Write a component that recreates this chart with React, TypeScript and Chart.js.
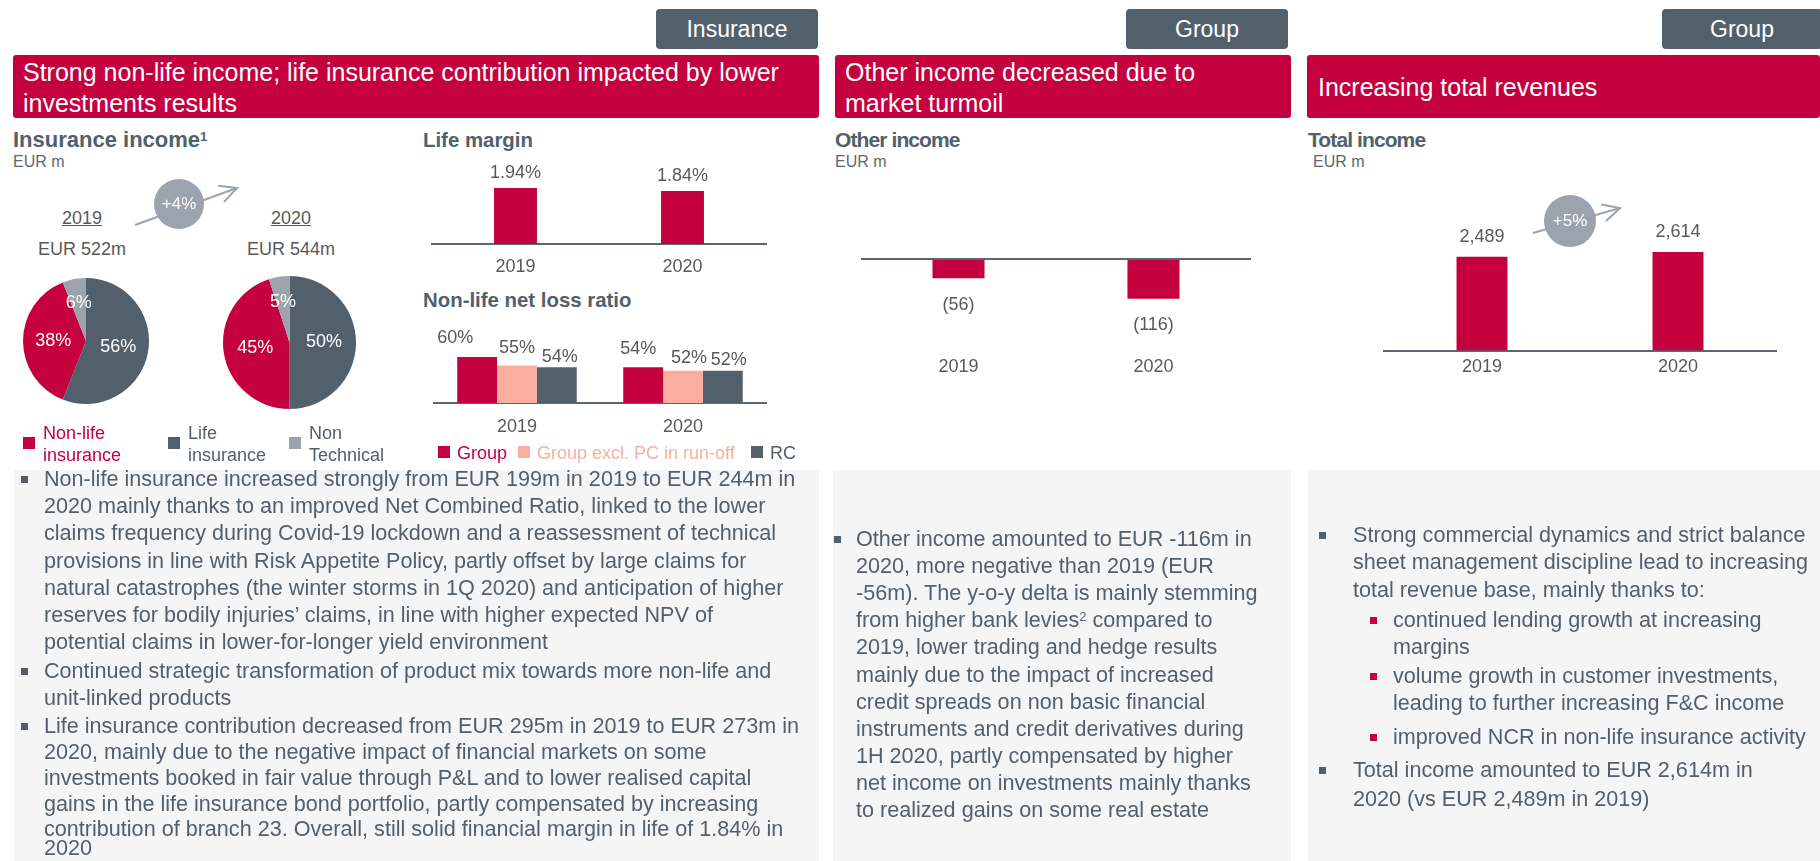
import React, { useEffect, useRef } from 'react';
import { Chart, registerables } from 'chart.js';

Chart.register(...registerables);

// ---------- data ----------
const years = ['2019', '2020'];
const pieLabels = ['Life insurance', 'Non-life insurance', 'Non Technical'];
const pie2019 = [56, 38, 6];
const pie2020 = [50, 45, 5];
const lifeMargin = [1.94, 1.84];
const nlrGroup = [60, 54];
const nlrGroupExPC = [55, 52];
const nlrRC = [54, 52];
const otherIncome = [-56, -116];
const totalIncome = [2489, 2614];

// ---------- style ----------
const FONT = '"Liberation Sans", Arial, Helvetica, sans-serif';
const RED = '#c4003f';
const SLATE = '#52606c';
const LIGHT = '#9ba3ad';
const SALMON = '#f9ae9e';
const TXT = '#535f6a';
const NUM = '#595959';
const AXIS = '#5c6670';
const BOX = '#f5f5f5';
const TICK_SIZE = 18;
const TICK_LH = TICK_SIZE * 1.2;

// bottom padding so that the chart area ends at areaBottom (page px)
function padBottom(canvasTop: number, canvasH: number, areaBottom: number, tickPad: number) {
  return canvasH - (areaBottom - canvasTop) - (TICK_LH + 2 * tickPad);
}

type LabelOpts = {
  color: string;
  size: number;
  offset: number;
  pie?: boolean;
  nudge?: (di: number, i: number) => [number, number];
};

function labelPlugin(id: string, fmt: (v: number) => string, opts: LabelOpts) {
  return {
    id,
    afterDatasetsDraw(chart: any) {
      const ctx = chart.ctx;
      ctx.save();
      ctx.font = `${opts.size}px ${FONT}`;
      ctx.fillStyle = opts.color;
      ctx.textAlign = 'center';
      ctx.textBaseline = 'middle';
      chart.data.datasets.forEach((ds: any, di: number) => {
        const meta = chart.getDatasetMeta(di);
        meta.data.forEach((el: any, i: number) => {
          const v = ds.data[i] as number;
          let x: number, y: number;
          if (opts.pie) {
            const p = el.getProps(['x', 'y', 'startAngle', 'endAngle', 'outerRadius']);
            const mid = (p.startAngle + p.endAngle) / 2;
            const r = p.outerRadius * (v < 10 ? 0.62 : 0.52);
            x = p.x + Math.cos(mid) * r;
            y = p.y + Math.sin(mid) * r;
          } else {
            x = el.x;
            y = v >= 0 ? el.y - opts.offset : el.y + opts.offset;
          }
          if (opts.nudge) {
            const [dx, dy] = opts.nudge(di, i);
            x += dx;
            y += dy;
          }
          ctx.fillText(fmt(v), x, y);
        });
      });
      ctx.restore();
    },
  };
}

function ChartBox({ left, top, width, height, make }: { left: number; top: number; width: number; height: number; make: () => any }) {
  const ref = useRef<HTMLCanvasElement>(null);
  useEffect(() => {
    const chart = new Chart(ref.current as HTMLCanvasElement, make());
    return () => chart.destroy();
  }, []);
  return (
    <canvas
      ref={ref}
      width={width}
      height={height}
      style={{ position: 'absolute', left, top, width, height }}
    />
  );
}

const tickFont = { family: FONT, size: TICK_SIZE };
const noPlugins = { legend: { display: false }, tooltip: { enabled: false } };

function pieConfig(values: number[], id: string) {
  return {
    type: 'pie',
    data: {
      labels: pieLabels,
      datasets: [{ data: values, backgroundColor: [SLATE, RED, LIGHT], borderWidth: 0, hoverOffset: 0 }],
    },
    options: {
      responsive: false,
      animation: false,
      events: [],
      layout: { padding: 7 },
      plugins: noPlugins,
    },
    plugins: [labelPlugin(id, (v) => `${v}%`, { color: '#ffffff', size: 18, offset: 0, pie: true })],
  };
}

// Life margin: canvas top 150, h 160, area 169..244
function lifeMarginConfig() {
  const p = 12.5;
  return {
    type: 'bar',
    data: {
      labels: years,
      datasets: [{ data: lifeMargin, backgroundColor: RED, borderWidth: 0, categoryPercentage: 1, barPercentage: 0.257 }],
    },
    options: {
      responsive: false,
      animation: false,
      events: [],
      layout: { padding: { left: 20, right: 20, top: 19, bottom: padBottom(150, 160, 244, p) } },
      plugins: noPlugins,
      scales: {
        x: {
          z: 1,
          grid: { display: false, drawTicks: false },
          border: { display: true, color: AXIS, width: 2 },
          ticks: { color: NUM, font: tickFont, padding: p },
        },
        y: { display: false, min: 0, max: 2.6 },
      },
    },
    plugins: [labelPlugin('lm', (v) => `${v.toFixed(2)}%`, { color: NUM, size: 18, offset: 15 })],
  };
}

// NLR: canvas top 320, h 140, area 340..403
const nlrNudges: [number, number][][] = [
  [[-22, -1], [-5, 0]],
  [[0, 0], [6, 5]],
  [[3, 8], [6, 7]],
];
function nlrConfig() {
  const p = 13.2;
  const common = { borderWidth: 0, categoryPercentage: 0.72, barPercentage: 1 };
  return {
    type: 'bar',
    data: {
      labels: years,
      datasets: [
        { label: 'Group', data: nlrGroup, backgroundColor: RED, ...common },
        { label: 'Group excl. PC in run-off', data: nlrGroupExPC, backgroundColor: SALMON, ...common },
        { label: 'RC', data: nlrRC, backgroundColor: SLATE, ...common },
      ],
    },
    options: {
      responsive: false,
      animation: false,
      events: [],
      layout: { padding: { left: 20, right: 20, top: 20, bottom: padBottom(320, 140, 403, p) } },
      plugins: noPlugins,
      scales: {
        x: {
          z: 1,
          grid: { display: false, drawTicks: false },
          border: { display: true, color: AXIS, width: 2 },
          ticks: { color: NUM, font: tickFont, padding: p },
        },
        y: { display: false, min: 33, max: 70 },
      },
    },
    plugins: [labelPlugin('nlr', (v) => `${v}%`, { color: NUM, size: 18, offset: 18, nudge: (di, i) => nlrNudges[di][i] })],
  };
}

// Other income: canvas top 200, h 220, area 225..341
function otherIncomeConfig() {
  const p = 15.2;
  return {
    type: 'bar',
    data: {
      labels: years,
      datasets: [{ data: otherIncome, backgroundColor: RED, borderWidth: 0, categoryPercentage: 1, barPercentage: 0.267 }],
    },
    options: {
      responsive: false,
      animation: false,
      events: [],
      layout: { padding: { left: 20, right: 20, top: 25, bottom: padBottom(200, 220, 341, p) } },
      plugins: noPlugins,
      scales: {
        x: {
          grid: { display: false, drawTicks: false },
          border: { display: false },
          ticks: { color: NUM, font: tickFont, padding: p },
        },
        y: {
          z: 1,
          display: true,
          min: -240,
          max: 100,
          afterFit: (s: any) => { s.width = 0; },
          ticks: { display: false, stepSize: 20 },
          border: { display: false },
          grid: {
            drawTicks: false,
            lineWidth: 2,
            color: (c: any) => (c.tick && c.tick.value === 0 ? AXIS : 'rgba(0,0,0,0)'),
          },
        },
      },
    },
    plugins: [labelPlugin('oi', (v) => `(${Math.abs(v)})`, { color: NUM, size: 18, offset: 26.5 })],
  };
}

// Total income: canvas top 200, h 200, area 222.5..350.5
function totalIncomeConfig() {
  const p = 5.7;
  return {
    type: 'bar',
    data: {
      labels: years,
      datasets: [{ data: totalIncome, backgroundColor: RED, borderWidth: 0, categoryPercentage: 1, barPercentage: 0.26 }],
    },
    options: {
      responsive: false,
      animation: false,
      events: [],
      layout: { padding: { left: 20, right: 20, top: 22.5, bottom: padBottom(200, 200, 350.5, p) } },
      plugins: noPlugins,
      scales: {
        x: {
          z: 1,
          grid: { display: false, drawTicks: false },
          border: { display: true, color: AXIS, width: 2 },
          ticks: { color: NUM, font: tickFont, padding: p },
        },
        y: { display: false, min: 0, max: 3400 },
      },
    },
    plugins: [labelPlugin('ti', (v) => v.toLocaleString('en-US'), { color: NUM, size: 18, offset: 20 })],
  };
}

// ---------- layout helpers ----------
function T({ x, y, children, size = 18, color = NUM, bold = false, align = 'left', ls = 0, lh = 26, style = {} }: any) {
  const base: any = {
    position: 'absolute',
    top: y - lh / 2,
    height: lh,
    lineHeight: `${lh}px`,
    fontSize: size,
    color,
    fontWeight: bold ? 'bold' : 'normal',
    whiteSpace: 'nowrap',
    letterSpacing: ls,
    fontFamily: FONT,
  };
  if (align === 'center') {
    base.left = x - 200;
    base.width = 400;
    base.textAlign = 'center';
  } else {
    base.left = x;
  }
  return <div style={{ ...base, ...style }}>{children}</div>;
}

function Sq({ x, y, s = 12, color }: any) {
  return <div style={{ position: 'absolute', left: x, top: y, width: s, height: s, background: color }} />;
}

function Bullet({ x, y, color = TXT }: any) {
  return <div style={{ position: 'absolute', left: x, top: y - 3.5, width: 6.5, height: 7, background: color }} />;
}

function Tag({ x, w, text }: any) {
  return (
    <div
      style={{
        position: 'absolute', left: x, top: 9, width: w, height: 40, background: SLATE, borderRadius: 4,
        color: '#fff', fontSize: 23, lineHeight: '40px', textAlign: 'center', fontFamily: FONT,
      }}
    >
      {text}
    </div>
  );
}

function Growth({ cx, cy, r, x1, y1, x2, y2, label }: any) {
  const ang = Math.atan2(y2 - y1, x2 - x1);
  const L = 19;
  const spread = 0.47;
  const a1 = ang + Math.PI - spread;
  const a2 = ang + Math.PI + spread;
  return (
    <g>
      <line x1={x1} y1={y1} x2={x2} y2={y2} stroke={LIGHT} strokeWidth={2} />
      <polyline
        points={`${x2 + L * Math.cos(a1)},${y2 + L * Math.sin(a1)} ${x2},${y2} ${x2 + L * Math.cos(a2)},${y2 + L * Math.sin(a2)}`}
        fill="none" stroke={LIGHT} strokeWidth={2}
      />
      <circle cx={cx} cy={cy} r={r} fill={LIGHT} />
      <text x={cx} y={cy + 1} fill="#fff" fontSize={17} textAnchor="middle" dominantBaseline="middle" fontFamily={FONT}>{label}</text>
    </g>
  );
}

const BS = 21.6; // body size
const sup = { fontSize: 13, verticalAlign: 'top', lineHeight: '20px' } as any;

export default function App() {
  return (
    <div style={{ position: 'absolute', left: 0, top: 0, width: 1820, height: 861, overflow: 'hidden', background: '#fff', fontFamily: FONT }}>
      {/* tags */}
      <Tag x={656} w={162} text="Insurance" />
      <Tag x={1126} w={162} text="Group" />
      <Tag x={1662} w={160} text="Group" />

      {/* red headers */}
      <div style={{ position: 'absolute', left: 13, top: 55, width: 806, height: 63, background: RED, borderRadius: 3 }} />
      <div style={{ position: 'absolute', left: 835, top: 55, width: 456, height: 63, background: RED, borderRadius: 3 }} />
      <div style={{ position: 'absolute', left: 1307, top: 55, width: 513, height: 63, background: RED, borderRadius: 3 }} />
      <T x={23} y={72} size={25} color="#fff" lh={31}>Strong non-life income; life insurance contribution impacted by lower</T>
      <T x={23} y={103} size={25} color="#fff" lh={31}>investments results</T>
      <T x={845} y={72} size={25} color="#fff" lh={31}>Other income decreased due to</T>
      <T x={845} y={103} size={25} color="#fff" lh={31}>market turmoil</T>
      <T x={1318} y={87} size={25} color="#fff" lh={31}>Increasing total revenues</T>

      {/* panel titles */}
      <T x={13} y={140} size={22} bold color={SLATE}>Insurance income<sup style={sup}>1</sup></T>
      <T x={13} y={162} size={16} color="#5d6872">EUR m</T>
      <T x={423} y={140} size={20.4} bold color={SLATE}>Life margin</T>
      <T x={423} y={300} size={20.4} bold color={SLATE}>Non-life net loss ratio</T>
      <T x={835} y={140} size={21} bold color={SLATE} ls={-0.9}>Other income</T>
      <T x={835} y={162} size={16} color="#5d6872">EUR m</T>
      <T x={1308} y={140} size={21} bold color={SLATE} ls={-0.9}>Total income</T>
      <T x={1313} y={162} size={16} color="#5d6872">EUR m</T>

      {/* pie headings */}
      <T x={82} y={218} align="center" style={{ textDecoration: 'underline' }}>2019</T>
      <T x={82} y={249} align="center">EUR 522m</T>
      <T x={291} y={218} align="center" style={{ textDecoration: 'underline' }}>2020</T>
      <T x={291} y={249} align="center">EUR 544m</T>

      {/* charts */}
      <ChartBox left={16} top={271} width={140} height={140} make={() => pieConfig(pie2019, 'p19')} />
      <ChartBox left={216} top={269} width={147} height={147} make={() => pieConfig(pie2020, 'p20')} />
      <ChartBox left={412} top={150} width={374} height={160} make={lifeMarginConfig} />
      <ChartBox left={414} top={320} width={372} height={140} make={nlrConfig} />
      <ChartBox left={841} top={200} width={430} height={220} make={otherIncomeConfig} />
      <ChartBox left={1364} top={200} width={432} height={200} make={totalIncomeConfig} />

      {/* growth bubbles */}
      <svg width={1820} height={861} style={{ position: 'absolute', left: 0, top: 0, pointerEvents: 'none' }}>
        <Growth cx={179} cy={204} r={25} x1={135} y1={225} x2={237} y2={188} label="+4%" />
        <Growth cx={1570} cy={221} r={26} x1={1533} y1={233} x2={1620} y2={208} label="+5%" />
      </svg>

      {/* pie legend */}
      <Sq x={23} y={437} color={RED} />
      <T x={43} y={433} color={RED} lh={22}>Non-life</T>
      <T x={43} y={455} color={RED} lh={22}>insurance</T>
      <Sq x={168} y={437} color={SLATE} />
      <T x={188} y={433} color={TXT} lh={22}>Life</T>
      <T x={188} y={455} color={TXT} lh={22}>insurance</T>
      <Sq x={289} y={437} color={LIGHT} />
      <T x={309} y={433} color={TXT} lh={22}>Non</T>
      <T x={309} y={455} color={TXT} lh={22}>Technical</T>

      {/* NLR legend */}
      <Sq x={438} y={446} color={RED} />
      <T x={457} y={453} color={RED} lh={22}>Group</T>
      <Sq x={518} y={446} color={SALMON} />
      <T x={537} y={453} color={SALMON} lh={22}>Group excl. PC in run-off</T>
      <Sq x={751} y={446} color={SLATE} />
      <T x={770} y={453} color={SLATE} lh={22}>RC</T>

      {/* text boxes */}
      <div style={{ position: 'absolute', left: 14, top: 470, width: 805, height: 391, background: BOX }} />
      <div style={{ position: 'absolute', left: 833, top: 470, width: 458, height: 391, background: BOX }} />
      <div style={{ position: 'absolute', left: 1308, top: 470, width: 512, height: 391, background: BOX }} />

      {/* left box text */}
      <Bullet x={21} y={479} />
      <T x={44} y={479} size={BS} color={TXT}>Non-life insurance increased strongly from EUR 199m in 2019 to EUR 244m in</T>
      <T x={44} y={506} size={BS} color={TXT}>2020 mainly thanks to an improved Net Combined Ratio, linked to the lower</T>
      <T x={44} y={533} size={BS} color={TXT}>claims frequency during Covid-19 lockdown and a reassessment of technical</T>
      <T x={44} y={561} size={BS} color={TXT}>provisions in line with Risk Appetite Policy, partly offset by large claims for</T>
      <T x={44} y={588} size={BS} color={TXT}>natural catastrophes (the winter storms in 1Q 2020) and anticipation of higher</T>
      <T x={44} y={615} size={BS} color={TXT}>reserves for bodily injuries’ claims, in line with higher expected NPV of</T>
      <T x={44} y={642} size={BS} color={TXT}>potential claims in lower-for-longer yield environment</T>
      <Bullet x={21} y={671} />
      <T x={44} y={671} size={BS} color={TXT}>Continued strategic transformation of product mix towards more non-life and</T>
      <T x={44} y={698} size={BS} color={TXT}>unit-linked products</T>
      <Bullet x={21} y={726} />
      <T x={44} y={726} size={BS} color={TXT}>Life insurance contribution decreased from EUR 295m in 2019 to EUR 273m in</T>
      <T x={44} y={752} size={BS} color={TXT}>2020, mainly due to the negative impact of financial markets on some</T>
      <T x={44} y={778} size={BS} color={TXT}>investments booked in fair value through P&amp;L and to lower realised capital</T>
      <T x={44} y={804} size={BS} color={TXT}>gains in the life insurance bond portfolio, partly compensated by increasing</T>
      <T x={44} y={829} size={BS} color={TXT}>contribution of branch 23. Overall, still solid financial margin in life of 1.84% in</T>
      <T x={44} y={848} size={BS} color={TXT} lh={20}>2020</T>

      {/* middle box text */}
      <Bullet x={834} y={539} />
      <T x={856} y={539} size={BS} color={TXT}>Other income amounted to EUR -116m in</T>
      <T x={856} y={566} size={BS} color={TXT}>2020, more negative than 2019 (EUR</T>
      <T x={856} y={593} size={BS} color={TXT}>-56m). The y-o-y delta is mainly stemming</T>
      <T x={856} y={620} size={BS} color={TXT}>from higher bank levies<sup style={sup}>2</sup> compared to</T>
      <T x={856} y={647} size={BS} color={TXT}>2019, lower trading and hedge results</T>
      <T x={856} y={675} size={BS} color={TXT}>mainly due to the impact of increased</T>
      <T x={856} y={702} size={BS} color={TXT}>credit spreads on non basic financial</T>
      <T x={856} y={729} size={BS} color={TXT}>instruments and credit derivatives during</T>
      <T x={856} y={756} size={BS} color={TXT}>1H 2020, partly compensated by higher</T>
      <T x={856} y={783} size={BS} color={TXT}>net income on investments mainly thanks</T>
      <T x={856} y={810} size={BS} color={TXT}>to realized gains on some real estate</T>

      {/* right box text */}
      <Bullet x={1319} y={535} />
      <T x={1353} y={535} size={BS} color={TXT}>Strong commercial dynamics and strict balance</T>
      <T x={1353} y={562} size={BS} color={TXT}>sheet management discipline lead to increasing</T>
      <T x={1353} y={590} size={BS} color={TXT}>total revenue base, mainly thanks to:</T>
      <Bullet x={1370} y={620} color={RED} />
      <T x={1393} y={620} size={BS} color={TXT}>continued lending growth at increasing</T>
      <T x={1393} y={647} size={BS} color={TXT}>margins</T>
      <Bullet x={1370} y={676} color={RED} />
      <T x={1393} y={676} size={BS} color={TXT}>volume growth in customer investments,</T>
      <T x={1393} y={703} size={BS} color={TXT}>leading to further increasing F&amp;C income</T>
      <Bullet x={1370} y={737} color={RED} />
      <T x={1393} y={737} size={BS} color={TXT}>improved NCR in non-life insurance activity</T>
      <Bullet x={1319} y={770} />
      <T x={1353} y={770} size={BS} color={TXT}>Total income amounted to EUR 2,614m in</T>
      <T x={1353} y={799} size={BS} color={TXT}>2020 (vs EUR 2,489m in 2019)</T>
    </div>
  );
}
